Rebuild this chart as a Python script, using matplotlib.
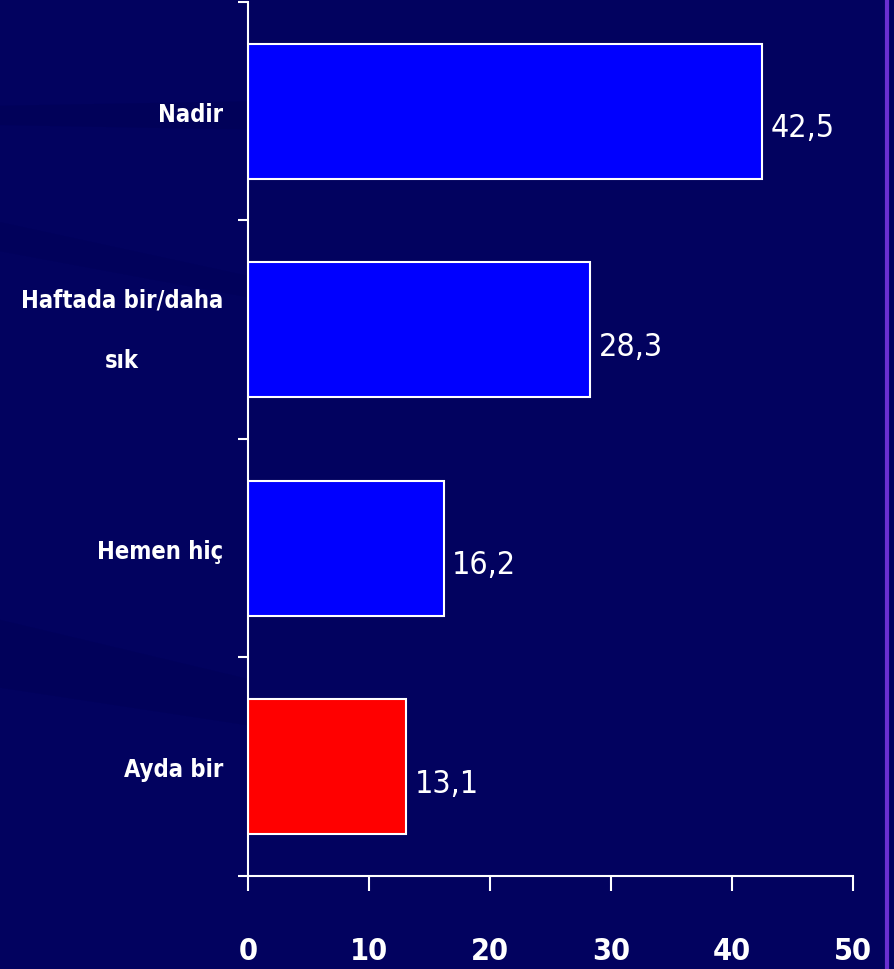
import numpy as np
import matplotlib.pyplot as plt
from matplotlib.lines import Line2D

# data (top to bottom as in the picture)
categories = ['Nadir', 'Haftada bir/daha\nsık', 'Hemen hiç', 'Ayda bir']
values = [42.5, 28.3, 16.2, 13.1]
bar_colors = ['#0000ff', '#0000ff', '#0000ff', '#ff0000']
xticks = [0, 10, 20, 30, 40, 50]

bg = '#02025f'
fam = 'DejaVu Sans'

fig = plt.figure(figsize=(8.95, 9.7), dpi=100, facecolor=bg)

# faint diagonal streaks in the background
bgax = fig.add_axes([0, 0, 1, 1], zorder=-5)
bgax.set_xlim(0, 1)
bgax.set_ylim(0, 1)
bgax.axis('off')
bgax.fill([0, 0.6, 0.6, 0], [0.87, 0.86, 0.9, 0.89], color='#000050', alpha=0.35, lw=0)
bgax.fill([0, 0.5, 0.5, 0], [0.29, 0.22, 0.25, 0.36], color='#000050', alpha=0.3, lw=0)
bgax.fill([0, 0.35, 0.35, 0], [0.74, 0.68, 0.70, 0.77], color='#000050', alpha=0.25, lw=0)

ax = fig.add_axes([0.277, 0.0959, 0.676, 0.901])
ax.set_facecolor(bg)

pos = np.arange(len(categories))[::-1]
ax.barh(pos, values, height=0.62, color=bar_colors, edgecolor='white', linewidth=1.5)

for p, v in zip(pos, values):
    ax.annotate(f'{v:.1f}'.replace('.', ','), (v, p), xytext=(6, -12),
                textcoords='offset points', ha='left', va='center',
                color='white', fontsize=23, family=fam, fontstretch='condensed')

ax.set_xlim(0, 50)
ax.set_ylim(-0.5, 3.5)
ax.set_xticks(xticks)
ax.set_xticklabels([str(t) for t in xticks], fontsize=22, fontweight='bold',
                   color='white', family=fam, fontstretch='condensed')
ax.tick_params(axis='x', direction='out', length=11, width=1.5, color='white', pad=32)

ax.set_yticks(pos)
ax.set_yticklabels(categories, fontsize=17, fontweight='bold', color='white',
                   family=fam, fontstretch='condensed', linespacing=2.9,
                   multialignment='center')
for lab in ax.get_yticklabels():
    if '\n' in lab.get_text():
        lab.set_va('center')
ax.set_yticks(np.arange(-0.5, 4, 1), minor=True)
ax.tick_params(axis='y', which='major', length=0, pad=18)
ax.tick_params(axis='y', which='minor', direction='out', length=7, width=1.5, color='white')

for s in ['top', 'right']:
    ax.spines[s].set_visible(False)
for s in ['left', 'bottom']:
    ax.spines[s].set_color('white')
    ax.spines[s].set_linewidth(1.5)

# purple edge line on the right
fig.add_artist(Line2D([0.991, 0.991], [0, 1], color='#6a2fd0', lw=3))

fig.savefig('out.png', dpi=100, facecolor=bg)
